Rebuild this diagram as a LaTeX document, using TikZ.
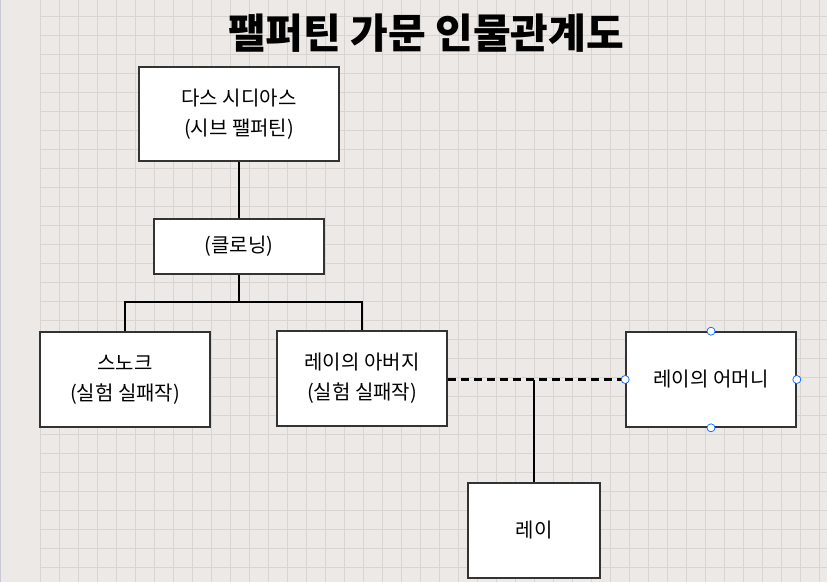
\documentclass[tikz,border=0pt]{standalone}
\usepackage{fontspec}
\setmainfont{Noto Sans CJK KR}
\begin{document}
\begin{tikzpicture}[x=1pt,y=-1pt,
  box/.style={draw=black!80,line width=1.6pt,fill=white,align=center,font=\fontsize{20}{30}\selectfont,inner sep=0pt},
  conn/.style={line width=2.4pt},
  handle/.style={circle,draw=blue!60!cyan,fill=white,line width=0.7pt,inner sep=0pt,minimum size=8pt}]
\useasboundingbox (0,0) rectangle (827,582);
\fill[color={rgb,255:red,237;green,233;blue,230}] (0,0) rectangle (827,582);
\foreach \i in {0,...,41}{\draw[color={rgb,255:red,218;green,212;blue,208},line width=0.7pt] ({40+19*\i},0) -- ({40+19*\i},582);}
\foreach \i in {0,...,30}{\draw[color={rgb,255:red,218;green,212;blue,208},line width=0.7pt] (40,{16+19*\i}) -- (827,{16+19*\i});}
\draw[color={rgb,255:red,200;green,200;blue,215},line width=1pt] (0.5,0) -- (0.5,582);
\node[font=\fontsize{41}{46}\selectfont\bfseries] (title) at (426,33) {팰퍼틴 가문 인물관계도};
\node[box,minimum width=200pt,minimum height=94pt] (sid) at (239,114) {다스 시디아스\\(시브 팰퍼틴)};
\node[box,minimum width=170pt,minimum height=55pt] (clone) at (239,246.5) {(클로닝)};
\node[box,minimum width=170pt,minimum height=95pt] (snoke) at (125,379.5) {스노크\\(실험 실패작)};
\node[box,minimum width=170pt,minimum height=95pt] (father) at (362,378.5) {레이의 아버지\\(실험 실패작)};
\node[box,minimum width=170pt,minimum height=95pt] (mother) at (711,379.5) {레이의 어머니};
\node[box,minimum width=132pt,minimum height=95pt] (rey) at (534,530.5) {레이};
\draw[conn] (sid.south) -- (clone.north);
\coordinate (j) at (239,302);
\draw[conn] (clone.south) -- (j);
\draw[conn] (snoke.north) |- (j) -| (father.north);
\draw[conn,dashed,dash pattern=on 8pt off 5pt] (father.east|-mother.west) -- (mother.west);
\coordinate (m) at (534,379.5);
\draw[conn] (m) -- (rey.north);
\foreach \a in {north,south,east,west}{\node[handle] (h\a) at (mother.\a) {};}
\end{tikzpicture}
\end{document}
